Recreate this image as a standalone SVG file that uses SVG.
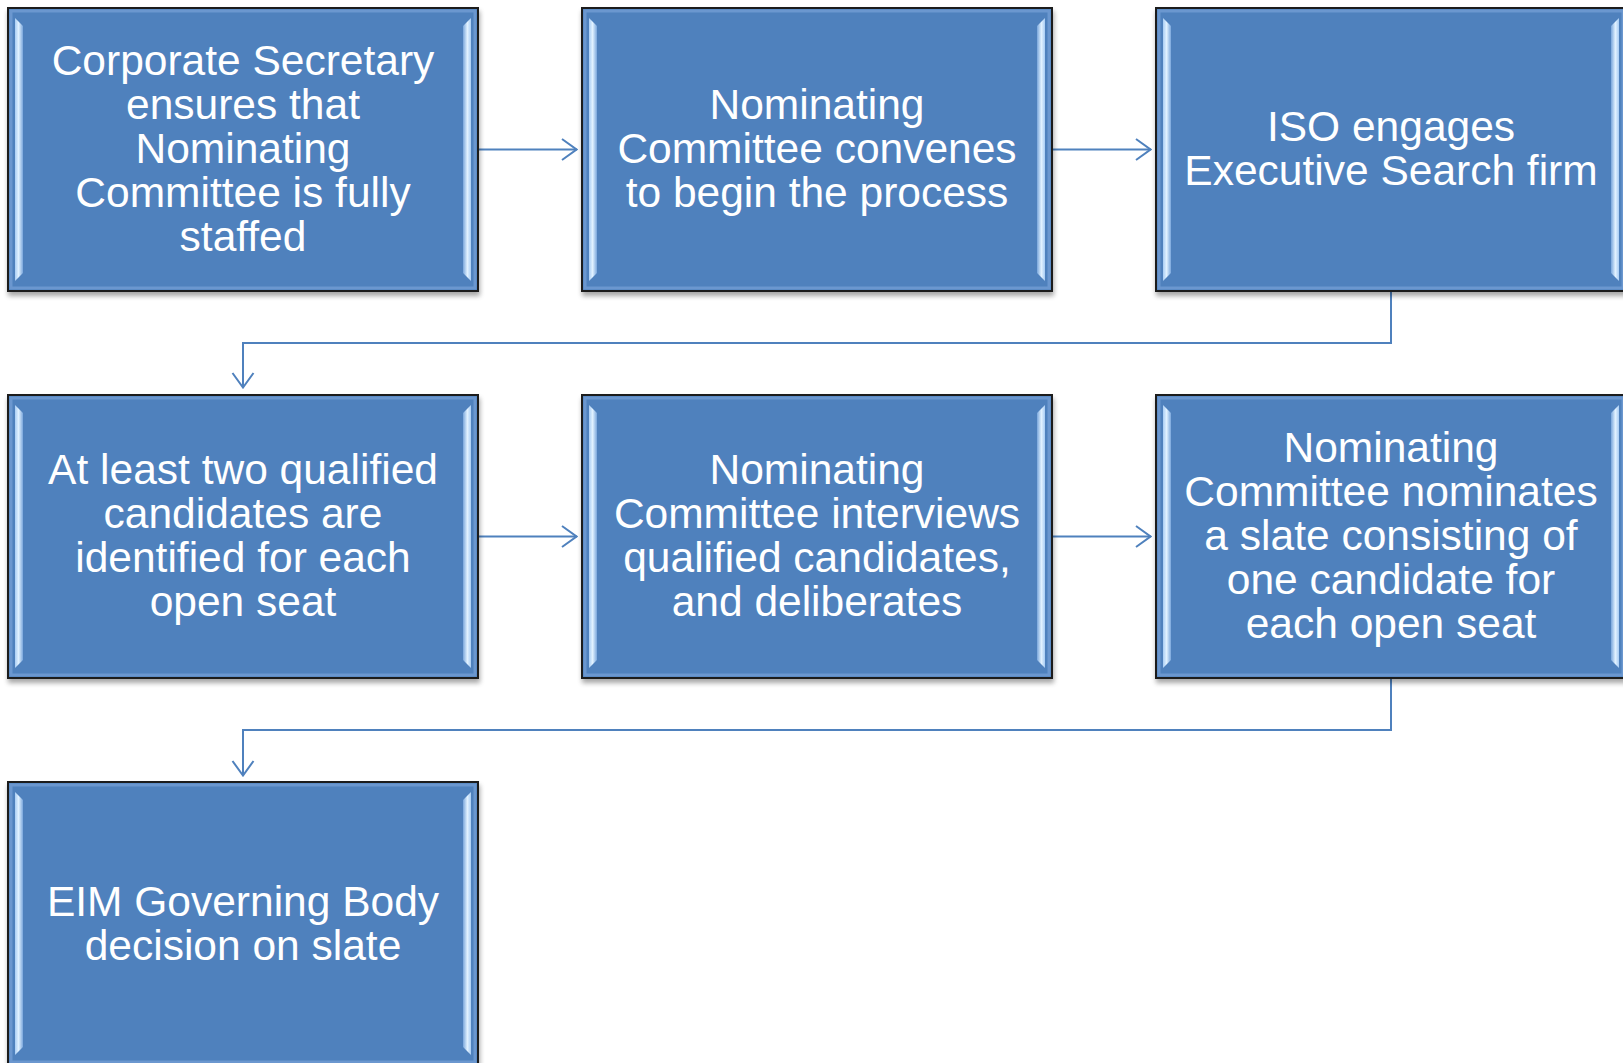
<svg xmlns="http://www.w3.org/2000/svg" width="1623" height="1063" viewBox="0 0 1623 1063">
<defs>
<style>
.box{fill:#4F81BD;stroke:#1a1a1a;stroke-width:2}
.frame{fill:none;stroke:#6b97cf;stroke-width:3}
.strip{fill:url(#sg)}
.stripR{fill:url(#sgR)}
.lbl{font-family:"Liberation Sans",Arial,sans-serif;font-size:42.5px;fill:#ffffff;text-anchor:middle}
.conn{fill:none;stroke:#4F81BD;stroke-width:2}
</style>
<linearGradient id="sg" x1="0" y1="0" x2="1" y2="0">
<stop offset="0" stop-color="#a9cdf4"/>
<stop offset="0.45" stop-color="#e2f2ff"/>
<stop offset="1" stop-color="#79a6dc"/>
</linearGradient>
<linearGradient id="sgR" x1="0" y1="0" x2="1" y2="0">
<stop offset="0" stop-color="#79a6dc"/>
<stop offset="0.55" stop-color="#e2f2ff"/>
<stop offset="1" stop-color="#a9cdf4"/>
</linearGradient>
<filter id="sh" x="-5%" y="-5%" width="110%" height="115%">
<feGaussianBlur in="SourceAlpha" stdDeviation="2.5"/>
<feOffset dx="1" dy="4" result="b"/>
<feComponentTransfer><feFuncA type="linear" slope="0.35"/></feComponentTransfer>
<feMerge><feMergeNode/><feMergeNode in="SourceGraphic"/></feMerge>
</filter>
<marker id="arr" viewBox="0 0 18 24" refX="17" refY="12" markerWidth="18" markerHeight="24" markerUnits="userSpaceOnUse" orient="auto">
<path d="M2,1.5 L16.5,12 L2,22.5" fill="none" stroke="#4F81BD" stroke-width="2"/>
</marker>
<g id="bevel">
<rect class="frame" x="3" y="3" width="464" height="277"/>
<polygon class="strip" points="7,10 15,18 15,265 7,273"/>
<polygon class="stripR" points="455,18 463,10 463,273 455,265"/>
</g>
</defs>
<rect width="1623" height="1063" fill="#ffffff"/>

<g id="connectors">
<path class="conn" d="M478,149.5 H577" marker-end="url(#arr)"/>
<path class="conn" d="M1052,149.5 H1151" marker-end="url(#arr)"/>
<path class="conn" d="M1391,291 V343 H243 V388" marker-end="url(#arr)"/>
<path class="conn" d="M478,536.5 H577" marker-end="url(#arr)"/>
<path class="conn" d="M1052,536.5 H1151" marker-end="url(#arr)"/>
<path class="conn" d="M1391,678 V730 H243 V776" marker-end="url(#arr)"/>
</g>

<g id="node1" transform="translate(8,8)">
<rect class="box" width="470" height="283" filter="url(#sh)"/>
<use href="#bevel"/>
<text class="lbl"><tspan x="235" y="67">Corporate Secretary</tspan><tspan x="235" y="111">ensures that</tspan><tspan x="235" y="155">Nominating</tspan><tspan x="235" y="199">Committee is fully</tspan><tspan x="235" y="243">staffed</tspan></text>
</g>

<g id="node2" transform="translate(582,8)">
<rect class="box" width="470" height="283" filter="url(#sh)"/>
<use href="#bevel"/>
<text class="lbl"><tspan x="235" y="111">Nominating</tspan><tspan x="235" y="155">Committee convenes</tspan><tspan x="235" y="199">to begin the process</tspan></text>
</g>

<g id="node3" transform="translate(1156,8)">
<rect class="box" width="470" height="283" filter="url(#sh)"/>
<use href="#bevel"/>
<text class="lbl"><tspan x="235" y="133">ISO engages</tspan><tspan x="235" y="177">Executive Search firm</tspan></text>
</g>

<g id="node4" transform="translate(8,395)">
<rect class="box" width="470" height="283" filter="url(#sh)"/>
<use href="#bevel"/>
<text class="lbl"><tspan x="235" y="89">At least two qualified</tspan><tspan x="235" y="133">candidates are</tspan><tspan x="235" y="177">identified for each</tspan><tspan x="235" y="221">open seat</tspan></text>
</g>

<g id="node5" transform="translate(582,395)">
<rect class="box" width="470" height="283" filter="url(#sh)"/>
<use href="#bevel"/>
<text class="lbl"><tspan x="235" y="89">Nominating</tspan><tspan x="235" y="133">Committee interviews</tspan><tspan x="235" y="177">qualified candidates,</tspan><tspan x="235" y="221">and deliberates</tspan></text>
</g>

<g id="node6" transform="translate(1156,395)">
<rect class="box" width="470" height="283" filter="url(#sh)"/>
<use href="#bevel"/>
<text class="lbl"><tspan x="235" y="67">Nominating</tspan><tspan x="235" y="111">Committee nominates</tspan><tspan x="235" y="155">a slate consisting of</tspan><tspan x="235" y="199">one candidate for</tspan><tspan x="235" y="243">each open seat</tspan></text>
</g>

<g id="node7" transform="translate(8,782)">
<rect class="box" width="470" height="283" filter="url(#sh)"/>
<use href="#bevel"/>
<text class="lbl"><tspan x="235" y="134">EIM Governing Body</tspan><tspan x="235" y="178">decision on slate</tspan></text>
</g>
</svg>
